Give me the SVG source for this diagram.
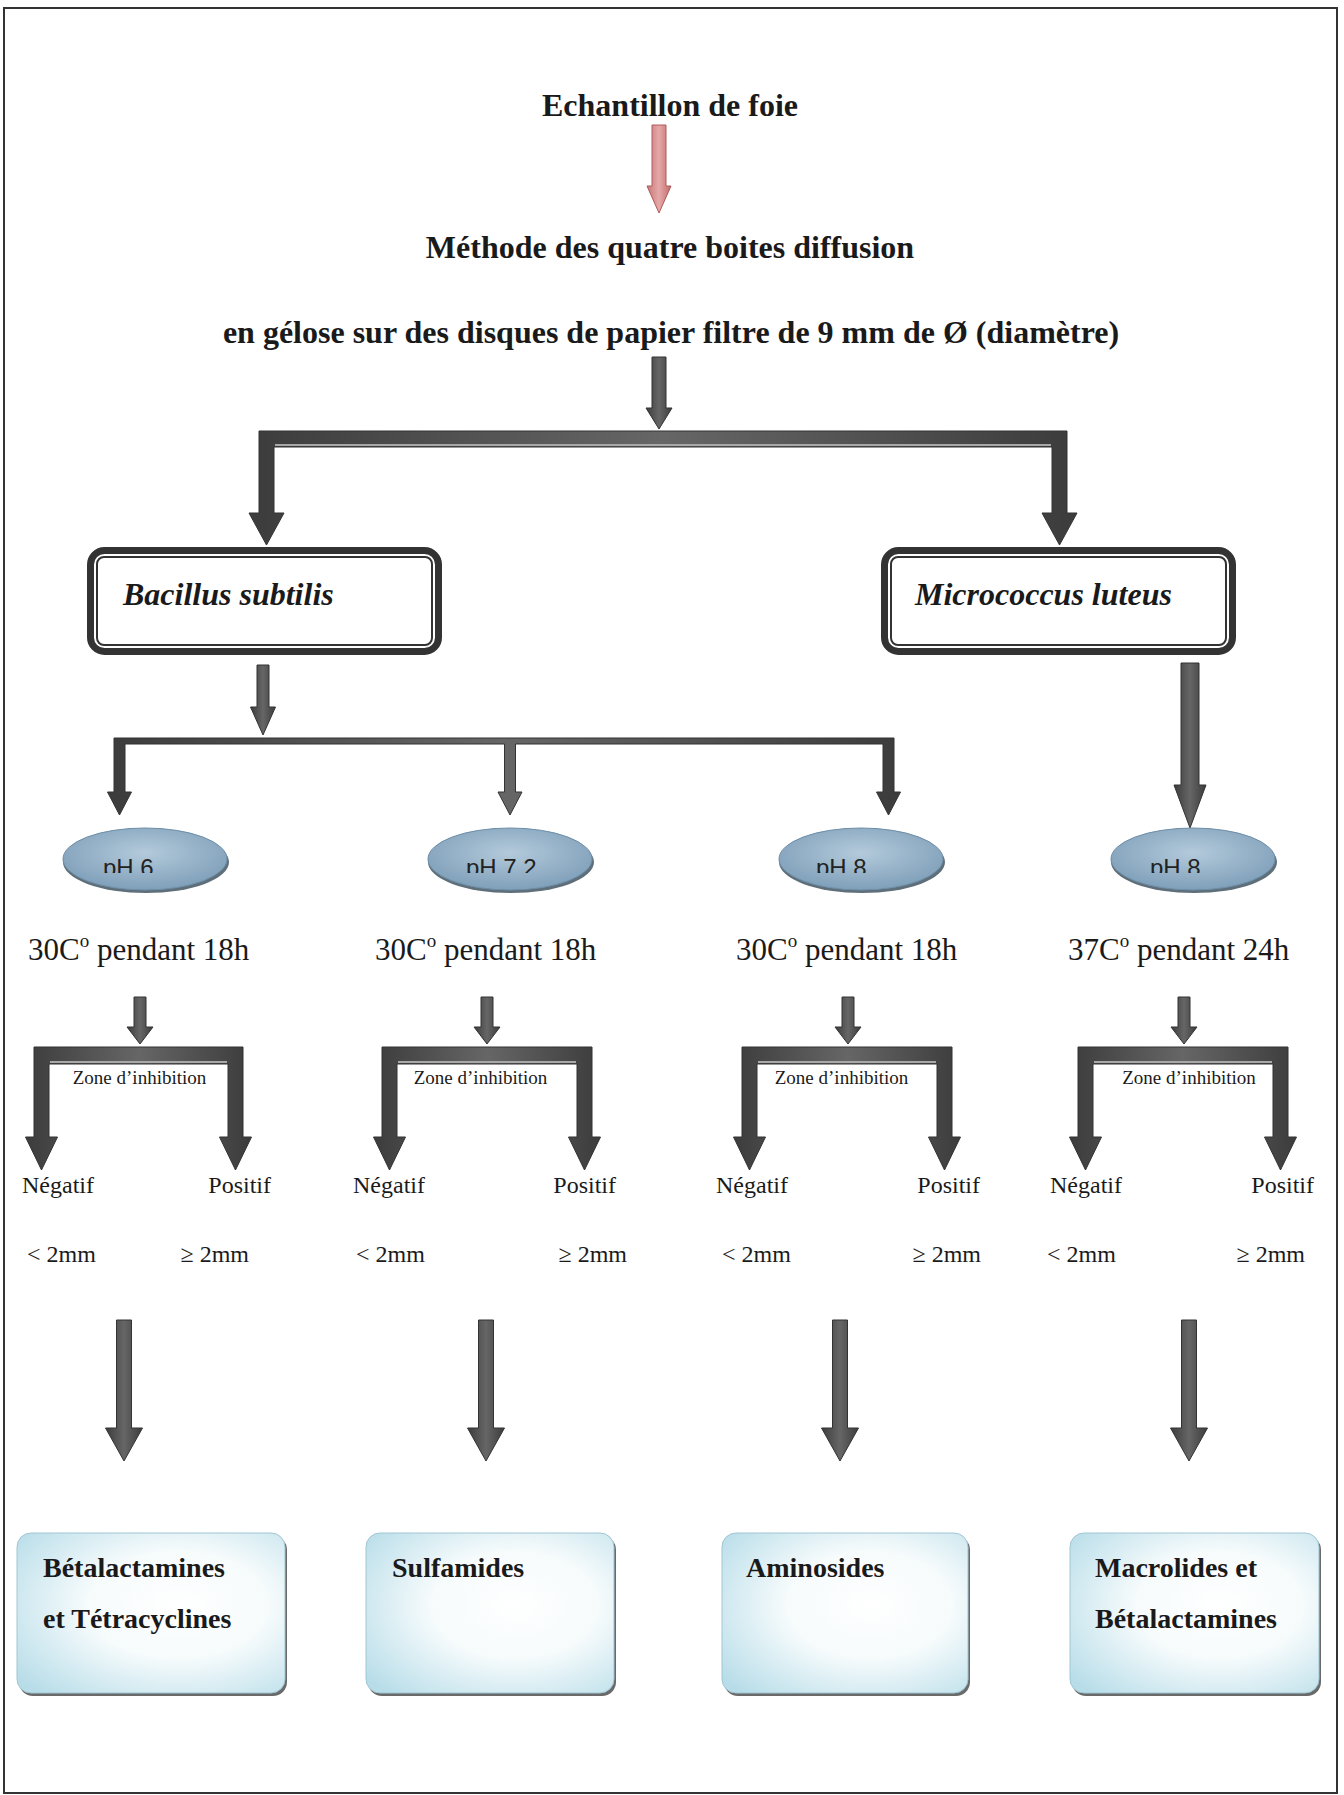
<svg xmlns="http://www.w3.org/2000/svg" width="1344" height="1795" viewBox="0 0 1344 1795">
<defs>
<style>
.t{font-family:"Liberation Serif","Times New Roman",serif;fill:#1a1a1a}
.tb{font-family:"Liberation Serif","Times New Roman",serif;font-weight:bold;fill:#1a1a1a}
.ti{font-family:"Liberation Serif","Times New Roman",serif;font-weight:bold;font-style:italic;fill:#1a1a1a}
.ph{font-family:"Liberation Sans",Arial,sans-serif;font-size:24px;fill:#222}
.arr{fill:url(#dark);stroke:#333;stroke-width:1}
.hl{stroke:#a8a8a8;stroke-width:2}
.ell{fill:url(#blue);stroke:#6d8ea8;stroke-width:1}
.shd{fill:#5f6f7a}
.res{fill:url(#res);stroke:#9fc6d3;stroke-width:1}
.resS{fill:#6a6a6a}
</style>
<linearGradient id="dark" x1="0" y1="0" x2="1" y2="0">
<stop offset="0" stop-color="#3c3c3c"/>
<stop offset="0.5" stop-color="#666"/>
<stop offset="1" stop-color="#3c3c3c"/>
</linearGradient>
<linearGradient id="pink" x1="0" y1="0" x2="1" y2="0">
<stop offset="0" stop-color="#c77878"/>
<stop offset="0.5" stop-color="#e6a8a8"/>
<stop offset="1" stop-color="#c06c6c"/>
</linearGradient>
<radialGradient id="blue" cx="0.5" cy="0.4" r="0.6">
<stop offset="0" stop-color="#b3cadb"/>
<stop offset="1" stop-color="#7f9fb9"/>
</radialGradient>
<radialGradient id="res" cx="0.6" cy="0.45" r="0.75">
<stop offset="0" stop-color="#ffffff"/>
<stop offset="0.45" stop-color="#f6fbfc"/>
<stop offset="1" stop-color="#b8dde9"/>
</radialGradient>
<clipPath id="c1"><rect x="0" y="840" width="1344" height="33"/></clipPath>
</defs>

<rect x="4" y="8" width="1333" height="1785" fill="#fff" stroke="#333" stroke-width="2"/>

<g id="connectors">
<polygon points="652,125 666,125 666,186 671,186 659,213 647,186 652,186" fill="url(#pink)" stroke="#b05a5a" stroke-width="1"/>
<polygon class="arr" points="652,357 666,357 666,408 672,408 659,429 646,408 652,408"/>
<path class="arr" d="M259,431 H1067 V513 H1077 L1059.5,545 L1042,513 H1052 V447 H274 V513 H284 L266.5,545 L249,513 H259 Z"/>
<line class="hl" x1="275" y1="445" x2="1051" y2="445"/>
<polygon class="arr" points="257,665 269,665 269,707 275.5,707 263,735 250.5,707 257,707"/>
<path class="arr" d="M114,738 H894 V792 H900.5 L888.5,815 L876.5,792 H883 V744 H515.5 V792 H522 L510,815 L498,792 H504.5 V744 H125 V792 H131.5 L119.5,815 L107.5,792 H114 Z"/>
<polygon class="arr" points="1181,663 1199,663 1199,785 1206,785 1190,828 1174,785 1181,785"/>

<polygon class="arr" points="134,997 146,997 146,1027 153,1027 140,1044 127,1027 134,1027"/>
<polygon class="arr" points="481,997 493,997 493,1027 500,1027 487,1044 474,1027 481,1027"/>
<polygon class="arr" points="842,997 854,997 854,1027 861,1027 848,1044 835,1027 842,1027"/>
<polygon class="arr" points="1178,997 1190,997 1190,1027 1197,1027 1184,1044 1171,1027 1178,1027"/>

<path class="arr" d="M34,1047 H243 V1137 H251.5 L235.5,1170 L219.5,1137 H228 V1064 H49 V1137 H57.5 L41.5,1170 L25.5,1137 H34 Z"/>
<line class="hl" x1="50" y1="1062" x2="227" y2="1062"/>
<path class="arr" d="M382,1047 H592 V1137 H600.5 L584.5,1170 L568.5,1137 H577 V1064 H397 V1137 H405.5 L389.5,1170 L373.5,1137 H382 Z"/>
<line class="hl" x1="398" y1="1062" x2="576" y2="1062"/>
<path class="arr" d="M742,1047 H952 V1137 H960.5 L944.5,1170 L928.5,1137 H937 V1064 H757 V1137 H765.5 L749.5,1170 L733.5,1137 H742 Z"/>
<line class="hl" x1="758" y1="1062" x2="936" y2="1062"/>
<path class="arr" d="M1078,1047 H1288 V1137 H1296.5 L1280.5,1170 L1264.5,1137 H1273 V1064 H1093 V1137 H1101.5 L1085.5,1170 L1069.5,1137 H1078 Z"/>
<line class="hl" x1="1094" y1="1062" x2="1272" y2="1062"/>

<polygon class="arr" points="116.5,1320 131.5,1320 131.5,1428 142.5,1428 124,1461 105.5,1428 116.5,1428"/>
<polygon class="arr" points="478.5,1320 493.5,1320 493.5,1428 504.5,1428 486,1461 467.5,1428 478.5,1428"/>
<polygon class="arr" points="832.5,1320 847.5,1320 847.5,1428 858.5,1428 840,1461 821.5,1428 832.5,1428"/>
<polygon class="arr" points="1181.5,1320 1196.5,1320 1196.5,1428 1207.5,1428 1189,1461 1170.5,1428 1181.5,1428"/>
</g>

<g id="sample"><text class="tb" x="670" y="116" font-size="32" text-anchor="middle">Echantillon de foie</text></g>
<g id="method">
<text class="tb" x="670" y="258" font-size="32" text-anchor="middle">Méthode des quatre boites diffusion</text>
<text class="tb" x="671" y="343" font-size="32" text-anchor="middle">en gélose sur des disques de papier filtre de 9 mm de Ø (diamètre)</text>
</g>

<g id="bacillus">
<rect x="90.5" y="550.5" width="348" height="101" rx="14" fill="#fff" stroke="#333" stroke-width="7"/>
<rect x="97" y="557" width="335" height="88" rx="7" fill="none" stroke="#333" stroke-width="2"/>
<text class="ti" x="123" y="605" font-size="32">Bacillus subtilis</text>
</g>
<g id="micrococcus">
<rect x="884.5" y="550.5" width="348" height="101" rx="14" fill="#fff" stroke="#333" stroke-width="7"/>
<rect x="891" y="557" width="335" height="88" rx="7" fill="none" stroke="#333" stroke-width="2"/>
<text class="ti" x="915" y="605" font-size="32">Micrococcus luteus</text>
</g>

<g id="ph6">
<ellipse class="shd" cx="146" cy="862" rx="83" ry="31"/>
<ellipse class="ell" cx="145" cy="859" rx="82" ry="31"/>
<text class="ph" x="103" y="876" clip-path="url(#c1)">pH 6</text>
</g>
<g id="ph72">
<ellipse class="shd" cx="511" cy="862" rx="83" ry="31"/>
<ellipse class="ell" cx="510" cy="859" rx="82" ry="31"/>
<text class="ph" x="466" y="876" clip-path="url(#c1)">pH 7.2</text>
</g>
<g id="ph8a">
<ellipse class="shd" cx="862" cy="862" rx="83" ry="31"/>
<ellipse class="ell" cx="861" cy="859" rx="82" ry="31"/>
<text class="ph" x="816" y="876" clip-path="url(#c1)">pH 8</text>
</g>
<g id="ph8b">
<ellipse class="shd" cx="1194" cy="862" rx="83" ry="31"/>
<ellipse class="ell" cx="1193" cy="859" rx="82" ry="31"/>
<text class="ph" x="1150" y="876" clip-path="url(#c1)">pH 8</text>
</g>

<g id="cond1">
<text class="t" x="28" y="960" font-size="31">30C<tspan font-size="19" dy="-13">o</tspan><tspan dy="13"> pendant 18h</tspan></text>
<text class="t" x="139.5" y="1084" font-size="19" text-anchor="middle">Zone d’inhibition</text>
<text class="t" x="22" y="1193" font-size="24">Négatif</text>
<text class="t" x="271" y="1193" font-size="24" text-anchor="end">Positif</text>
<text class="t" x="27" y="1262" font-size="24">&lt; 2mm</text>
<text class="t" x="249" y="1262" font-size="24" text-anchor="end">≥ 2mm</text>
</g>
<g id="cond2">
<text class="t" x="375" y="960" font-size="31">30C<tspan font-size="19" dy="-13">o</tspan><tspan dy="13"> pendant 18h</tspan></text>
<text class="t" x="480.5" y="1084" font-size="19" text-anchor="middle">Zone d’inhibition</text>
<text class="t" x="353" y="1193" font-size="24">Négatif</text>
<text class="t" x="616" y="1193" font-size="24" text-anchor="end">Positif</text>
<text class="t" x="356" y="1262" font-size="24">&lt; 2mm</text>
<text class="t" x="627" y="1262" font-size="24" text-anchor="end">≥ 2mm</text>
</g>
<g id="cond3">
<text class="t" x="736" y="960" font-size="31">30C<tspan font-size="19" dy="-13">o</tspan><tspan dy="13"> pendant 18h</tspan></text>
<text class="t" x="841.5" y="1084" font-size="19" text-anchor="middle">Zone d’inhibition</text>
<text class="t" x="716" y="1193" font-size="24">Négatif</text>
<text class="t" x="980" y="1193" font-size="24" text-anchor="end">Positif</text>
<text class="t" x="722" y="1262" font-size="24">&lt; 2mm</text>
<text class="t" x="981" y="1262" font-size="24" text-anchor="end">≥ 2mm</text>
</g>
<g id="cond4">
<text class="t" x="1068" y="960" font-size="31">37C<tspan font-size="19" dy="-13">o</tspan><tspan dy="13"> pendant 24h</tspan></text>
<text class="t" x="1189" y="1084" font-size="19" text-anchor="middle">Zone d’inhibition</text>
<text class="t" x="1050" y="1193" font-size="24">Négatif</text>
<text class="t" x="1314" y="1193" font-size="24" text-anchor="end">Positif</text>
<text class="t" x="1047" y="1262" font-size="24">&lt; 2mm</text>
<text class="t" x="1305" y="1262" font-size="24" text-anchor="end">≥ 2mm</text>
</g>

<g id="res1">
<rect class="resS" x="19" y="1536" width="268" height="160" rx="14"/>
<rect class="res" x="17" y="1533" width="268" height="160" rx="14"/>
<text class="tb" x="43" y="1577" font-size="28">Bétalactamines</text>
<text class="tb" x="43" y="1628" font-size="28">et Tétracyclines</text>
</g>
<g id="res2">
<rect class="resS" x="368" y="1536" width="248" height="160" rx="14"/>
<rect class="res" x="366" y="1533" width="248" height="160" rx="14"/>
<text class="tb" x="392" y="1577" font-size="28">Sulfamides</text>
</g>
<g id="res3">
<rect class="resS" x="724" y="1536" width="246" height="160" rx="14"/>
<rect class="res" x="722" y="1533" width="246" height="160" rx="14"/>
<text class="tb" x="746" y="1577" font-size="28">Aminosides</text>
</g>
<g id="res4">
<rect class="resS" x="1072" y="1536" width="249" height="160" rx="14"/>
<rect class="res" x="1070" y="1533" width="249" height="160" rx="14"/>
<text class="tb" x="1095" y="1577" font-size="28">Macrolides et</text>
<text class="tb" x="1095" y="1628" font-size="28">Bétalactamines</text>
</g>
</svg>
